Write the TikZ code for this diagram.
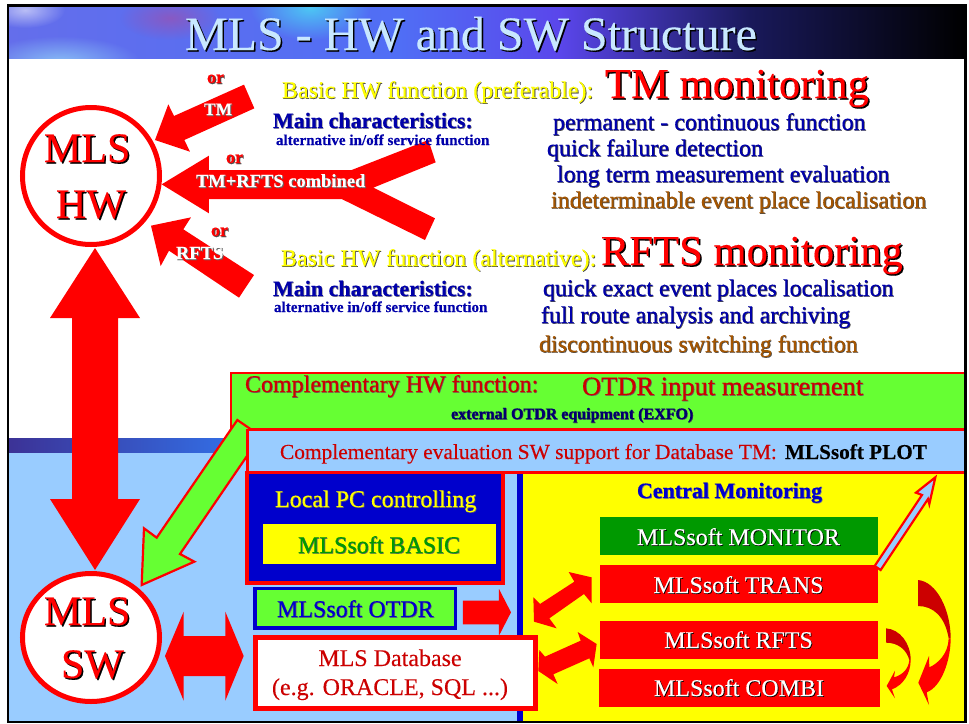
\documentclass[tikz,border=0pt]{standalone}
\usepackage{fontspec}
\setmainfont{Liberation Serif}[FakeBold=0.25]
\usetikzlibrary{fadings,shapes.geometric}
\definecolor{mred}{RGB}{255,0,0}
\definecolor{dred}{RGB}{204,0,0}
\definecolor{mgreen}{RGB}{102,255,51}
\definecolor{dgreen}{RGB}{0,153,0}
\definecolor{lblue}{RGB}{153,204,255}
\definecolor{mblue}{RGB}{0,0,204}
\definecolor{nblue}{RGB}{0,0,170}
\definecolor{navyt}{RGB}{0,0,110}
\definecolor{brownt}{RGB}{165,85,0}
\definecolor{myel}{RGB}{255,255,0}
\definecolor{titlec}{RGB}{200,232,255}
\tikzfading[name=glow,inner color=transparent!0,outer color=transparent!100]
\newcommand\sh[3][1pt]{\leavevmode\rlap{\kern#1\raisebox{-#1}{\textcolor{#2}{#3}}}#3}
\newcommand\fz[1]{\fontsize{#1pt}{#1pt}\selectfont}
\tikzset{
  lab/.style={anchor=base west,inner sep=0pt,outer sep=0pt},
  cen/.style={anchor=base,inner sep=0pt,outer sep=0pt},
  blockarrow/.style={fill=mred,draw=none},
  ring/.style={draw=mred,line width=5pt,fill=white},
  outlined/.style={draw=mred,line width=2.2pt,line join=miter},
  zoomA/.style={x=.33333pt,y=-.33333pt},
  bigred/.style={text=mred,font=\fz{42.6}},
  mlst/.style={lab,text=mred,font=\fz{42}},
  listb/.style={lab,text=nblue,font=\fz{24}},
  listr/.style={lab,text=brownt,font=\fz{24}},
  headb/.style={lab,text=nblue,font=\bfseries\fz{22}},
  smallb/.style={lab,text=nblue,font=\bfseries\fz{15.1}},
  yelt/.style={lab,text=myel,font=\fz{24}},
  boxt/.style={cen,text=white,font=\fz{24}},
  ort/.style={lab,font=\bfseries\fz{18},text=mred},
  arrt/.style={lab,font=\bfseries\fz{18.5},text=white},
}
\begin{document}
\begin{tikzpicture}[x=1pt,y=-1pt]
\useasboundingbox (0,0) rectangle (969,723);
\fill[white] (0,0) rectangle (969,723);
% title band
\begin{scope}
\clip (8,6) rectangle (965,58);
\shade[left color={rgb,255:red,100;green,110;blue,235},right color={rgb,255:red,80;green,110;blue,245}] (8,6) rectangle (400,58);
\shade[left color={rgb,255:red,80;green,110;blue,245},right color={rgb,255:red,90;green,70;blue,235}] (400,6) rectangle (560,58);
\shade[left color={rgb,255:red,90;green,70;blue,235},right color={rgb,255:red,25;green,25;blue,90}] (560,6) rectangle (750,58);
\shade[left color={rgb,255:red,25;green,25;blue,90},right color=black] (750,6) rectangle (965,58);
\fill[white,opacity=.55,path fading=glow] (25,10) ellipse (40 and 18);
\fill[cyan!40!white,opacity=.7,path fading=glow] (60,62) ellipse (80 and 26);
\fill[violet!70!white,opacity=.6,path fading=glow] (170,18) ellipse (50 and 22);
\fill[cyan!70!white,path fading=glow] (310,8) ellipse (60 and 32);
\end{scope}
% bottom panel
\fill[lblue] (8,452) rectangle (965,722);
\shade[left color={rgb,255:red,60;green,50;blue,150},right color={rgb,255:red,50;green,115;blue,235}] (8,438) rectangle (250,452);
% yellow central area
\fill[myel] (517,473) rectangle (964,721);
\fill[mblue] (517,473) rectangle (523,721);
% green box
\filldraw[fill=mgreen,draw=mred,line width=2.4pt] (231,373) rectangle (965.5,429);
% green arrow
\begin{scope}[shift={(0,360)},zoomA]
\filldraw[fill=mgreen,outlined] (425,675)--(432,505)--(470,533)--(712,180)--(782,228)--(540,582)--(583,605)--cycle;
\end{scope}
% light blue box
\filldraw[fill=lblue,draw=mred,line width=2.4pt] (247.5,430) rectangle (965.5,472.5);
% Local PC
\filldraw[fill=mblue,draw=mred,line width=3.4pt] (247,472.5) rectangle (503,583);
\fill[myel] (262.5,524) rectangle (496,564);
% OTDR
\filldraw[fill=mgreen,draw=mblue,line width=3.4pt] (255,588.5) rectangle (455.5,628);
% Database
\filldraw[fill=white,draw=mred,line width=5pt] (255.5,637.5) rectangle (535.5,708.5);
% central boxes
\fill[dgreen] (599.5,517) rectangle (878,555);
\fill[mred] (599.5,565) rectangle (878,603);
\fill[mred] (599.5,621) rectangle (878,659);
\fill[mred] (599,669) rectangle (880,707);
% frame
\draw[black,line width=2.4pt] (8,5.5) rectangle (965.5,722);
\node[lab,font=\fz{48},text=titlec] (title) at (185,50) {\sh[1.5pt]{black}{MLS - HW and SW Structure}};
% rings
\draw[ring] (91,176) circle (68.5);
\draw[ring] (91,637.5) ellipse (68.5 and 64);
% block arrows, top left
\begin{scope}[zoomA]
\fill[blockarrow] (465,420)--(505,313)--(522,348)--(732,254)--(763,325)--(553,420)--(570,455)--cycle;
\fill[blockarrow] (485,553)--(627,467)--(627,510)--(1055,510)--(1285,420)--(1307,487)--(1120,563)--(1305,655)--(1275,720)--(1025,597)--(627,597)--(627,640)--cycle;
\fill[blockarrow] (453,677)--(573,652)--(550,688)--(762,825)--(717,893)--(507,752)--(482,798)--cycle;
\end{scope}
% vertical double arrow
\fill[blockarrow] (95,248)--(140,318)--(118,318)--(118,499)--(140,499)--(95,570)--(50,499)--(72,499)--(72,318)--(50,318)--cycle;
% block arrows, bottom
\begin{scope}[shift={(0,360)},zoomA]
\fill[blockarrow] (495,888)--(551,755)--(551,828)--(676,828)--(676,755)--(731,888)--(676,1022)--(676,948)--(551,948)--(551,1022)--cycle;
\fill[blockarrow] (1389,722)--(1497,722)--(1497,687)--(1533,757)--(1497,827)--(1497,793)--(1389,793)--cycle;
\end{scope}
\begin{scope}[shift={(510,440)},zoomA]
\fill[blockarrow] (72,545)--(70,472)--(90,492)--(193,425)--(176,396)--(245,412)--(245,490)--(222,462)--(118,535)--(140,565)--cycle;
\fill[blockarrow] (260,612)--(203,576)--(212,602)--(105,650)--(88,630)--(85,693)--(143,732)--(130,703)--(238,655)--(250,682)--cycle;
\filldraw[fill=lblue,outlined] (1276,112)--(1218,158)--(1236,165)--(1094,378)--(1112,390)--(1254,177)--(1258,192)--cycle;
\end{scope}
% curved arrows
\begin{scope}[shift={(870,560)},zoomA]
\fill[dred] (144,60) .. controls (200,65) and (242,150) .. (242,235) -- (236,235) .. controls (225,170) and (190,138) .. (144,138) -- cycle;
\fill[mred] (242,235) .. controls (242,300) and (215,380) .. (170,397) -- (177,435) -- (145,368) -- (177,288) -- (178,322) .. controls (205,310) and (235,280) .. (236,235) -- cycle;
\fill[dred] (48,205) .. controls (90,208) and (122,250) .. (122,300) -- (118,300) .. controls (110,270) and (85,248) .. (48,248) -- cycle;
\fill[mred] (122,300) .. controls (122,340) and (100,375) .. (66,388) -- (75,415) -- (50,378) -- (75,332) -- (72,352) .. controls (95,345) and (115,330) .. (118,300) -- cycle;
\end{scope}
% MLS labels
\node[mlst] (hwa) at (44,162) {\sh[1.5pt]{black}{MLS}};
\node[mlst] (hwb) at (56,218) {\sh[1.5pt]{black}{HW}};
\node[mlst] (swa) at (44,625) {\sh[1.5pt]{black}{MLS}};
\node[mlst] (swb) at (61,678) {\sh[1.5pt]{black}{SW}};
% arrow labels
\node[ort] (or1) at (207,83) {\sh{black!70}{or}};
\node[arrt,font=\bfseries\fz{17.5}] (tm) at (204,115) {\sh{black!60}{TM}};
\node[ort] (or2) at (226,163) {\sh{black!70}{or}};
\node[arrt] (comb) at (196,187) {\sh{black!60}{TM+RFTS combined}};
\node[ort] (or3) at (211,236) {\sh{black!70}{or}};
\node[arrt] (rfts) at (176,259) {\sh{black!60}{RFTS}};
% top right text
\node[yelt] (ba) at (282,98) {\sh[.8pt]{black!70}{Basic HW function (preferable):}};
\node[lab,bigred] (tmm) at (605,98) {\sh[1.5pt]{black}{TM monitoring}};
\node[headb] (ma) at (273,128) {\sh[.7pt]{black!50}{Main characteristics:}};
\node[smallb] (aa) at (276,145) {alternative in/off service function};
\node[listb] (l1) at (553,130) {\sh[.7pt]{black!70}{permanent - continuous function}};
\node[listb] (l2) at (547,156) {\sh[.7pt]{black!70}{quick failure detection}};
\node[listb] (l3) at (557,182) {\sh[.7pt]{black!70}{long term measurement evaluation}};
\node[listr] (l4) at (551,208) {\sh[.7pt]{black!70}{indeterminable event place localisation}};
\node[yelt] (bb) at (281,266) {\sh[.8pt]{black!70}{Basic HW function (alternative):}};
\node[lab,bigred] (rfm) at (601,265) {\sh[1.5pt]{black}{RFTS monitoring}};
\node[headb] (mb) at (273,296) {\sh[.7pt]{black!50}{Main characteristics:}};
\node[smallb] (ab) at (274,312) {alternative in/off service function};
\node[listb] (r1) at (543,296) {\sh[.7pt]{black!70}{quick exact event places localisation}};
\node[listb] (r2) at (541,323) {\sh[.7pt]{black!70}{full route analysis and archiving}};
\node[listr] (r3) at (539,352) {\sh[.7pt]{black!70}{discontinuous switching function}};
% boxes text
\node[lab,font=\fz{24},text=dred] (c1) at (245,392) {\sh[.7pt]{black!60}{Complementary HW function:}};
\node[lab,font=\fz{26.5},text=dred] (c2) at (582,395) {\sh[.7pt]{black!60}{OTDR input measurement}};
\node[lab,font=\bfseries\fz{16},text=navyt] (c3) at (451,419) {\sh[.6pt]{black!70}{external OTDR equipment (EXFO)}};
\node[lab,font=\fz{21.4},text=dred] (c4) at (280,459) {Complementary evaluation SW support for Database TM:};
\node[lab,font=\bfseries\fz{21.2},text=black] (c5) at (785,459) {MLSsoft PLOT};
\node[yelt] (lpc) at (275,507) {\sh[.7pt]{black!60}{Local PC controlling}};
\node[lab,font=\fz{24},text=dgreen] (basic) at (298,553) {\sh[.7pt]{black!60}{MLSsoft BASIC}};
\node[lab,font=\fz{24},text=mblue] (otdr) at (277,617) {\sh[.7pt]{black!60}{MLSsoft OTDR}};
\node[cen,font=\fz{24},text=dred] (db1) at (390,666) {MLS Database};
\node[cen,font=\fz{24},text=dred] (db2) at (390,695) {(e.g. ORACLE, SQL ...)};
\node[cen,font=\bfseries\fz{22},text=mblue] (cm) at (729.5,498) {\sh[.7pt]{black!50}{Central Monitoring}};
\node[boxt] (mon) at (738.5,545) {\sh[.8pt]{black}{MLSsoft MONITOR}};
\node[boxt] (tra) at (738.5,593) {\sh[.8pt]{black}{MLSsoft TRANS}};
\node[boxt] (rft) at (738.5,648) {\sh[.8pt]{black}{MLSsoft RFTS}};
\node[boxt] (com) at (739,696) {\sh[.8pt]{black}{MLSsoft COMBI}};
\end{tikzpicture}
\end{document}
